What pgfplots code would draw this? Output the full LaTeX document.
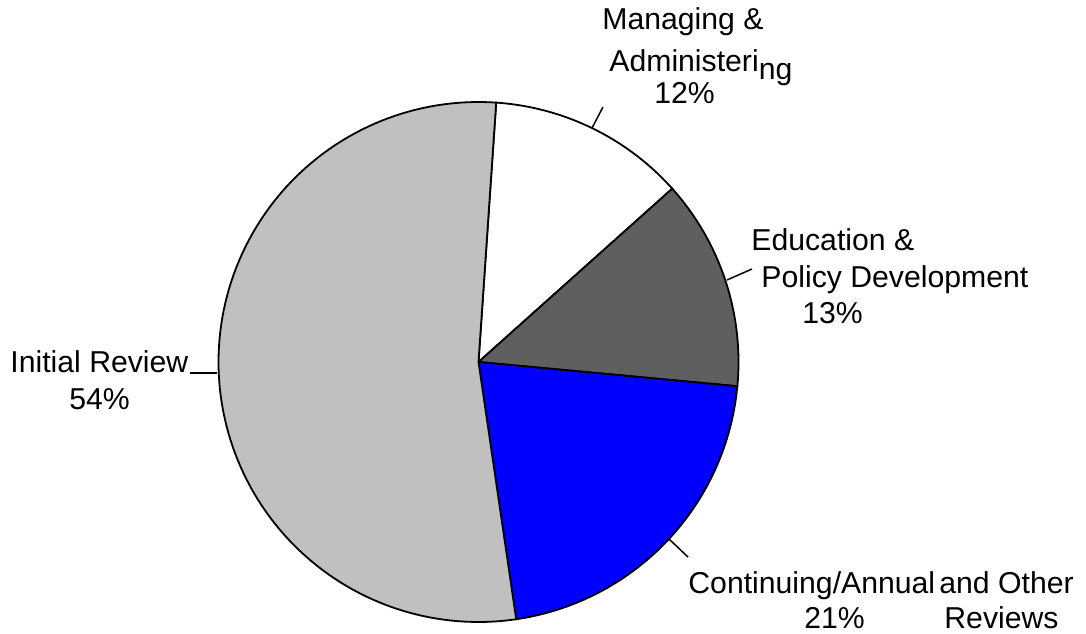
\documentclass[border=0pt]{standalone}
\usepackage{fontspec}
\setmainfont{Liberation Sans}
\usepackage{xcolor}
\usepackage{pgfplots}
\usepackage{pgfplotstable}
\pgfplotsset{compat=1.18}

\definecolor{sliceDark}{RGB}{95,95,95}
\definecolor{sliceLight}{RGB}{192,192,192}
\definecolor{sliceBlue}{RGB}{0,0,255}

% shares in percent, clockwise from the top
\pgfplotstableread{
name share
managing 12.3
education 13.1
continuing 21.2
initial 53.4
}\piedata

\newcommand\getshare[2]{\pgfplotstablegetelem{#1}{share}\of\piedata\edef#2{\pgfplotsretval}}
\newcommand\lab{\fontsize{15.1}{18}\selectfont}

\getshare{0}{\sA}\getshare{1}{\sB}\getshare{2}{\sC}\getshare{3}{\sD}
\pgfmathsetmacro\aA{86.1}
\pgfmathsetmacro\aB{\aA-3.6*\sA}
\pgfmathsetmacro\aC{\aB-3.6*\sB}
\pgfmathsetmacro\aD{\aC-3.6*\sC}
\pgfmathsetmacro\aE{\aD-3.6*\sD}
\def\cx{478.5}
\def\cy{271}
\def\r{260}

\begin{document}
\begin{tikzpicture}
  \begin{axis}[
    width=543pt, height=316.5pt,
    scale only axis,
    xmin=0, xmax=1086, ymin=0, ymax=633,
    hide axis,
    clip=false,
  ]
    \path (axis cs:0,0) rectangle (axis cs:1086,633);

    % slices
    \addplot[draw=black, line width=0.9pt, fill=white, domain=\aB:\aA, samples=60, variable=\t]
      ({\cx+\r*cos(\t)}, {\cy+\r*sin(\t)}) -- (axis cs:\cx,\cy) -- cycle;
    \addplot[draw=black, line width=0.9pt, fill=sliceDark, domain=\aC:\aB, samples=60, variable=\t]
      ({\cx+\r*cos(\t)}, {\cy+\r*sin(\t)}) -- (axis cs:\cx,\cy) -- cycle;
    \addplot[draw=black, line width=0.9pt, fill=sliceBlue, domain=\aD:\aC, samples=60, variable=\t]
      ({\cx+\r*cos(\t)}, {\cy+\r*sin(\t)}) -- (axis cs:\cx,\cy) -- cycle;
    \addplot[draw=black, line width=0.9pt, fill=sliceLight, domain=\aE:\aD, samples=120, variable=\t]
      ({\cx+\r*cos(\t)}, {\cy+\r*sin(\t)}) -- (axis cs:\cx,\cy) -- cycle;

    % leader lines
    \draw[line width=0.75pt] (axis cs:592,505) -- (axis cs:603,526);
    \draw[line width=0.75pt] (axis cs:190,260) -- (axis cs:217,260);
    \draw[line width=0.75pt] (axis cs:727,353) -- (axis cs:752,364);
    \draw[line width=0.75pt] (axis cs:669,94) -- (axis cs:688,76);

    % labels
    \begin{scope}[every node/.style={anchor=base west, inner sep=0pt, font=\lab}]
      \node at (axis cs:602,603) {Managing \&};
      \node at (axis cs:609,561) {Administeri\raisebox{-4pt}{ng}};
      \node at (axis cs:654,529) {12\%};
      \node at (axis cs:751,383) {Education \&};
      \node at (axis cs:761,346) {Policy Development};
      \node at (axis cs:802,310) {13\%};
      \node at (axis cs:10,261) {Initial Review};
      \node at (axis cs:69,224) {54\%};
      \node at (axis cs:688,40) {Continuing/Annual};
      \node at (axis cs:939,40) {and Other};
      \node at (axis cs:804,5) {21\%};
      \node at (axis cs:944,5) {Reviews};
    \end{scope}
  \end{axis}
\end{tikzpicture}
\end{document}
